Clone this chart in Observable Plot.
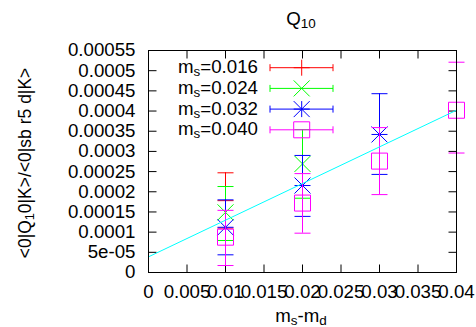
<!DOCTYPE html>
<html>
<head>
<meta charset="utf-8">
<script src="https://cdn.jsdelivr.net/npm/d3@7"></script>
<script src="https://cdn.jsdelivr.net/npm/@observablehq/plot@0.6"></script>
<style>
  html, body { margin: 0; padding: 0; background: #fff; }
  #chart svg { display: block; }
</style>
</head>
<body>
<div id="chart"></div>
<script>
// ---- data ----
const seriesNames = ["0.016", "0.024", "0.032", "0.040"];
const seriesColors = ["#ff0000", "#00ff00", "#0000ff", "#ff00ff"];

const x016 = [0.01];
const y016 = [0.000178];
const lo016 = [0.000110];
const hi016 = [0.000247];

const x024 = [0.01, 0.02];
const y024 = [0.000149, 0.000269];
const lo024 = [0.0000793, 0.000184];
const hi024 = [0.000213, 0.000354];

const x032 = [0.01, 0.02, 0.03];
const y032 = [0.000112, 0.0002155, 0.000342];
const lo032 = [0.0000438, 0.000139, 0.000243];
const hi032 = [0.000180, 0.000290, 0.000443];

const x040 = [0.01, 0.02, 0.03, 0.04];
const y040 = [0.0000875, 0.000172, 0.000276, 0.000402];
const lo040 = [0.0000173, 0.0000974, 0.000193, 0.000296];
const hi040 = [0.000154, 0.000245, 0.000359, 0.000521];

const fitX = [0, 0.04];
const fitY = [0.0000388, 0.000402];

const xTicks = [0, 0.005, 0.01, 0.015, 0.02, 0.025, 0.03, 0.035, 0.04];
const xTickLabels = ["0", "0.005", "0.01", "0.015", "0.02", "0.025", "0.03", "0.035", "0.04"];
const yTicks = [0, 0.00005, 0.0001, 0.00015, 0.0002, 0.00025, 0.0003, 0.00035, 0.0004, 0.00045, 0.0005, 0.00055];
const yTickLabels = ["0", "5e-05", "0.0001", "0.00015", "0.0002", "0.00025", "0.0003", "0.00035", "0.0004", "0.00045", "0.0005", "0.00055"];

// ---- build tables ----
const seriesRaw = [
  [x016, y016, lo016, hi016],
  [x024, y024, lo024, hi024],
  [x032, y032, lo032, hi032],
  [x040, y040, lo040, hi040]
];
const tables = seriesRaw.map(([xs, ys, los, his]) =>
  xs.map((x, i) => ({x, y: ys[i], lo: los[i], hi: his[i]})));
const fit = fitX.map((x, i) => ({x, y: fitY[i]}));

// ---- custom symbols ----
const P = 8;
const symPlus = {draw(c) { c.moveTo(-P, 0); c.lineTo(P, 0); c.moveTo(0, -P); c.lineTo(0, P); }};
const symTimes = {draw(c) { c.moveTo(-P, -P); c.lineTo(P, P); c.moveTo(-P, P); c.lineTo(P, -P); }};
const symStar = {draw(c) { symPlus.draw(c); symTimes.draw(c); }};
const symSquare = {draw(c) { c.moveTo(-P, -P); c.lineTo(P, -P); c.lineTo(P, P); c.lineTo(-P, P); c.closePath(); }};
const symCap = {draw(c) { c.moveTo(-P, 0); c.lineTo(P, 0); }};
const T = 8;
const tickRight = {draw(c) { c.moveTo(0, 0); c.lineTo(T, 0); }};
const tickLeft = {draw(c) { c.moveTo(0, 0); c.lineTo(-T, 0); }};
const tickDown = {draw(c) { c.moveTo(0, 0); c.lineTo(0, T); }};
const tickUp = {draw(c) { c.moveTo(0, 0); c.lineTo(0, -T); }};
const pointSyms = [symPlus, symTimes, symStar, symSquare];

const FONT = "'Liberation Sans', Arial, Helvetica, sans-serif";
const FS = 18.7;

const marks = [];
// tick marks (inward, mirrored)
marks.push(Plot.dot(yTicks, {y: d => d, frameAnchor: "left", symbol: tickRight, stroke: "black", fill: "none", strokeWidth: 1}));
marks.push(Plot.dot(yTicks, {y: d => d, frameAnchor: "right", symbol: tickLeft, stroke: "black", fill: "none", strokeWidth: 1}));
marks.push(Plot.dot(xTicks, {x: d => d, frameAnchor: "bottom", symbol: tickUp, stroke: "black", fill: "none", strokeWidth: 1}));
marks.push(Plot.dot(xTicks, {x: d => d, frameAnchor: "top", symbol: tickDown, stroke: "black", fill: "none", strokeWidth: 1}));

// series
tables.forEach((t, i) => {
  const col = seriesColors[i];
  marks.push(Plot.ruleX(t, {x: "x", y1: "lo", y2: "hi", stroke: col, strokeWidth: 1}));
  marks.push(Plot.dot(t, {x: "x", y: "hi", symbol: symCap, stroke: col, fill: "none", strokeWidth: 1}));
  marks.push(Plot.dot(t, {x: "x", y: "lo", symbol: symCap, stroke: col, fill: "none", strokeWidth: 1}));
  marks.push(Plot.dot(t, {x: "x", y: "y", symbol: pointSyms[i], stroke: col, fill: "none", strokeWidth: 1}));
});
// fit line
marks.push(Plot.line(fit, {x: "x", y: "y", stroke: "#00ffff", strokeWidth: 1}));

marks.push(Plot.frame({stroke: "black", strokeWidth: 1}));
marks.push(Plot.axisY({ticks: yTicks, tickSize: 0, tickPadding: 13, label: null,
  tickFormat: d => yTickLabels[yTicks.indexOf(d)], fontSize: FS}));
marks.push(Plot.axisX({ticks: xTicks, tickSize: 0, tickPadding: 12, label: null,
  tickFormat: d => xTickLabels[xTicks.indexOf(d)], fontSize: FS}));

const chart = Plot.plot({
  width: 476,
  height: 327,
  marginLeft: 148,
  marginRight: 20,
  marginTop: 50,
  marginBottom: 55,
  style: {fontFamily: FONT, fontSize: FS + "px", color: "black", background: "white"},
  x: {domain: [0, 0.04]},
  y: {domain: [0, 0.00055]},
  marks
});
document.getElementById("chart").appendChild(chart);

// ---- text annotations with subscripts (legend, title, labels) ----
const svg = d3.select(chart);
const ann = svg.append("g").attr("font-family", FONT).attr("font-size", FS).attr("fill", "black");

function subText(g, parts, fs = FS) {
  g.attr("font-size", fs);
  parts.forEach(([s, sub]) => {
    const ts = g.append("tspan").text(s);
    if (sub) ts.attr("font-size", fs * 0.72).attr("baseline-shift", "-25%");
  });
}

// title
const title = ann.append("text").attr("x", 301).attr("y", 25).attr("text-anchor", "middle");
subText(title, [["Q", false], ["10", true]]);

// x label
const xl = ann.append("text").attr("x", 301).attr("y", 322).attr("text-anchor", "middle");
subText(xl, [["m", false], ["s", true], ["-m", false], ["d", true]]);

// y label
const yl = ann.append("text").attr("transform", "translate(31,163) rotate(-90)").attr("text-anchor", "middle");
subText(yl, [["<0|Q", false], ["1", true], ["0|K>/<0|sb r5 d|K>", false]], 17.5);

// legend
const lx0 = 270, lx1 = 333, lxm = 301.7;
seriesNames.forEach((name, i) => {
  const yy = 67.7 + i * 20.7;
  const col = seriesColors[i];
  const t = ann.append("text").attr("x", 258).attr("y", yy + 5.5).attr("text-anchor", "end");
  subText(t, [["m", false], ["s", true], ["=" + name, false]]);
  const lg = svg.append("g").attr("stroke", col).attr("fill", "none").attr("stroke-width", 1);
  lg.append("line").attr("x1", lx0).attr("x2", lx1).attr("y1", yy).attr("y2", yy);
  lg.append("line").attr("x1", lx0).attr("x2", lx0).attr("y1", yy - 3.5).attr("y2", yy + 3.5);
  lg.append("line").attr("x1", lx1).attr("x2", lx1).attr("y1", yy - 3.5).attr("y2", yy + 3.5);
  const p = d3.path();
  pointSyms[i].draw(p);
  lg.append("path").attr("d", p.toString()).attr("transform", `translate(${lxm},${yy})`);
});
</script>
</body>
</html>
